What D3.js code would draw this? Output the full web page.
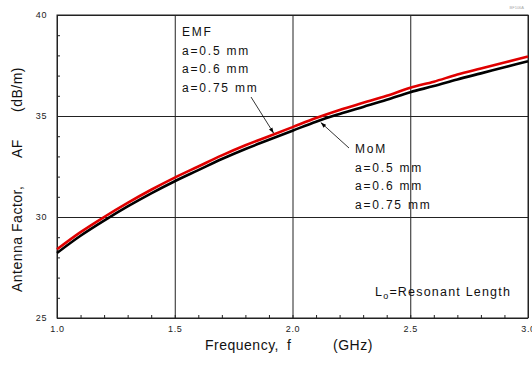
<!DOCTYPE html>
<html>
<head>
<meta charset="utf-8">
<script src="https://cdn.jsdelivr.net/npm/d3@7"></script>
<style>
  body { margin: 0; background: #fff; }
  text { font-family: "Liberation Sans", Arial, sans-serif; }
</style>
</head>
<body>
<svg id="chart"></svg>
<script>
const width = 532;
const height = 365;

// frequency (GHz) and antenna factor (dB/m)
const freq = [1.0, 1.1, 1.2, 1.3, 1.4, 1.5, 1.6, 1.7, 1.8, 1.9, 2.0, 2.1, 2.2, 2.3, 2.4, 2.5, 2.6, 2.7, 2.8, 2.9, 3.0];
const afEMF = [28.4, 29.25, 30.0, 30.7, 31.35, 31.95, 32.5, 33.05, 33.55, 34.0, 34.45, 34.9, 35.3, 35.65, 36.0, 36.4, 36.7, 37.05, 37.35, 37.65, 37.95];
const afMoM = [28.22, 29.07, 29.82, 30.52, 31.17, 31.77, 32.32, 32.87, 33.37, 33.82, 34.27, 34.72, 35.1, 35.45, 35.8, 36.18, 36.48, 36.81, 37.11, 37.41, 37.71];
const xTicks = [1.0, 1.5, 2.0, 2.5, 3.0];
const yTicks = [25, 30, 35, 40];
const emfLabels = ["EMF", "a=0.5 mm", "a=0.6 mm", "a=0.75 mm"];
const momLabels = ["MoM", "a=0.5 mm", "a=0.6 mm", "a=0.75 mm"];

const svg = d3.select('#chart')
  .attr('width', width)
  .attr('height', height);

const x = d3.scaleLinear().domain([1, 3]).range([57, 528]);
const y = d3.scaleLinear().domain([25, 40]).range([318, 15]);

// gridlines at major ticks
svg.append('g')
  .attr('transform', `translate(0,${y(25)})`)
  .call(d3.axisBottom(x).tickValues(xTicks).tickSize(-(y(25) - y(40))).tickFormat(''))
  .call(g => g.select('.domain').remove())
  .call(g => g.selectAll('line').attr('stroke', '#222'));
svg.append('g')
  .attr('transform', `translate(${x(1)},0)`)
  .call(d3.axisLeft(y).tickValues(yTicks).tickSize(-(x(3) - x(1))).tickFormat(''))
  .call(g => g.select('.domain').remove())
  .call(g => g.selectAll('line').attr('stroke', '#222'));

// minor ticks, pointing inside
svg.append('g')
  .attr('transform', `translate(0,${y(25)})`)
  .call(d3.axisBottom(x).ticks(20).tickSize(-3).tickFormat(''))
  .call(g => g.select('.domain').remove())
  .call(g => g.selectAll('line').attr('stroke', '#222'));
svg.append('g')
  .attr('transform', `translate(${x(1)},0)`)
  .call(d3.axisLeft(y).ticks(15).tickSize(-3).tickFormat(''))
  .call(g => g.select('.domain').remove())
  .call(g => g.selectAll('line').attr('stroke', '#222'));

// tick labels
svg.append('g')
  .attr('transform', `translate(0,${y(25)})`)
  .call(d3.axisBottom(x).tickValues(xTicks).tickSize(0).tickPadding(8).tickFormat(d3.format('.1f')))
  .call(g => g.select('.domain').remove())
  .call(g => g.selectAll('text').attr('font-size', 9).attr('fill', '#222')
    .attr('letter-spacing', 0.6).attr('font-family', '"Liberation Sans", Arial, sans-serif'));
svg.append('g')
  .attr('transform', `translate(${x(1) - 8},0)`)
  .call(d3.axisLeft(y).tickValues(yTicks).tickSize(0).tickPadding(2))
  .call(g => g.select('.domain').remove())
  .call(g => g.selectAll('text').attr('font-size', 9).attr('fill', '#222')
    .attr('letter-spacing', 0.6).attr('font-family', '"Liberation Sans", Arial, sans-serif'));

// frame
svg.append('rect')
  .attr('x', x(1)).attr('y', y(40))
  .attr('width', x(3) - x(1)).attr('height', y(25) - y(40))
  .attr('fill', 'none').attr('stroke', '#222').attr('stroke-width', 1);

// curves
const line = d3.line().x((d, i) => x(freq[i])).y(d => y(d)).curve(d3.curveMonotoneX);
svg.append('path').datum(afMoM)
  .attr('d', line).attr('fill', 'none').attr('stroke', '#000').attr('stroke-width', 2.6);
svg.append('path').datum(afEMF)
  .attr('d', line).attr('fill', 'none').attr('stroke', '#e00000').attr('stroke-width', 2.6);

// arrows
svg.append('defs').append('marker')
  .attr('id', 'arr').attr('viewBox', '0 0 10 10')
  .attr('refX', 10).attr('refY', 5)
  .attr('markerWidth', 7).attr('markerHeight', 7)
  .attr('orient', 'auto')
  .append('path').attr('d', 'M0,1.5 L10,5 L0,8.5 Z').attr('fill', '#000');

svg.append('line')
  .attr('x1', 251).attr('y1', 97).attr('x2', x(1.92)).attr('y2', y(34.1) - 1)
  .attr('stroke', '#000').attr('stroke-width', 0.8).attr('marker-end', 'url(#arr)');
svg.append('line')
  .attr('x1', 349).attr('y1', 148).attr('x2', x(2.12)).attr('y2', y(34.78) + 2)
  .attr('stroke', '#000').attr('stroke-width', 0.8).attr('marker-end', 'url(#arr)');

// annotation text
const ann = (labels, x0, y0) => svg.append('g').selectAll('text')
  .data(labels).join('text')
  .attr('x', x0).attr('y', (d, i) => y0 + i * 18.7)
  .attr('font-size', 12).attr('letter-spacing', 1.8).attr('fill', '#111')
  .text(d => d);
ann(emfLabels, 182, 36);
ann(momLabels, 355, 153);

const res = svg.append('text')
  .attr('x', 375).attr('y', 296)
  .attr('font-size', 12.5).attr('fill', '#111').attr('letter-spacing', 1.2);
res.append('tspan').text('L');
res.append('tspan').attr('font-size', 9).attr('dy', 3).text('o');
res.append('tspan').attr('dy', -3).text('=Resonant Length');

// axis titles
const xt = svg.append('text')
  .attr('y', 350)
  .attr('font-size', 14).attr('fill', '#111').attr('letter-spacing', 0.5);
xt.append('tspan').attr('x', 205).text('Frequency,');
xt.append('tspan').attr('x', 287).text('f');
xt.append('tspan').attr('x', 333).text('(GHz)');

const yt = svg.append('text')
  .attr('transform', 'translate(22,292) rotate(-90)')
  .attr('font-size', 14).attr('fill', '#111').attr('letter-spacing', 0.5);
yt.append('tspan').attr('x', 0).text('Antenna Factor,');
yt.append('tspan').attr('x', 134).text('AF');
yt.append('tspan').attr('x', 180).text('(dB/m)');

// small id mark top right
svg.append('text')
  .attr('x', 524).attr('y', 9).attr('text-anchor', 'end')
  .attr('font-size', 4).attr('fill', '#aaa')
  .text('BF106A');
</script>
</body>
</html>
